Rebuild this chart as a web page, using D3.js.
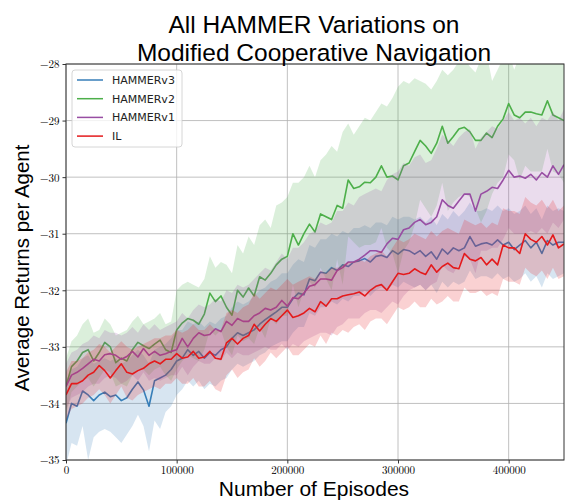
<!DOCTYPE html>
<html>
<head>
<meta charset="utf-8">
<script src="https://cdn.jsdelivr.net/npm/d3@7"></script>
<style>
  body { margin: 0; background: #fff; }
  svg { display: block; }
</style>
</head>
<body>
<svg width="568" height="502"></svg>
<script>
// episodes sampled every 5000
var episodes = d3.range(0, 450001, 5000)

var xTicks = [0, 100000, 200000, 300000, 400000]
var yTicks = [-35, -34, -33, -32, -31, -30, -29, -28]

var seriesNames = ['HAMMERv3', 'HAMMERv2', 'HAMMERv1', 'IL']
var seriesColors = ['#377eb8', '#4daf4a', '#984ea3', '#e41a1c']

/* HAMMERv3 */
var v3Mean = [-34.35,-34.0,-34.05,-33.78,-33.85,-33.95,-33.85,-33.8,-33.88,-33.85,-33.95,-33.9,-33.75,-33.62,-33.76,-34.05,-33.6,-33.55,-33.5,-33.4,
  -33.25,-33.2,-33.05,-33.15,-33.08,-33.2,-33.1,-33.15,-33.05,-33.0,-32.85,-32.75,-32.8,-32.75,-32.7,-32.6,-32.52,-32.45,-32.38,-32.3,
  -32.3,-32.15,-32.05,-32.08,-31.8,-31.83,-31.68,-31.7,-31.6,-31.65,-31.55,-31.58,-31.5,-31.48,-31.44,-31.5,-31.4,-31.38,-31.42,-31.3,
  -31.36,-31.28,-31.3,-31.36,-31.3,-31.4,-31.32,-31.45,-31.27,-31.36,-31.25,-31.3,-31.25,-31.05,-31.22,-31.18,-31.16,-31.2,-31.11,-31.2,
  -31.15,-31.28,-31.2,-31.12,-31.25,-31.15,-31.35,-31.12,-31.2,-31.15,-31.15]
var v3Hi = [-33.6,-33.4,-33.35,-33.2,-33.15,-33.3,-33.25,-33.2,-33.25,-33.2,-33.3,-33.25,-33.15,-33.05,-33.15,-33.3,-33.05,-33.0,-32.95,-32.85,
  -32.7,-32.7,-32.55,-32.6,-32.55,-32.65,-32.55,-32.6,-32.5,-32.45,-32.3,-32.2,-32.25,-32.2,-32.1,-32.0,-31.95,-31.85,-31.8,-31.7,
  -31.7,-31.55,-31.45,-31.5,-31.2,-31.25,-31.1,-31.1,-31.0,-31.05,-30.95,-31.0,-30.9,-30.9,-30.85,-30.9,-30.8,-30.8,-30.85,-30.7,
  -30.75,-30.7,-30.7,-30.75,-30.7,-30.8,-30.7,-30.85,-30.65,-30.75,-30.6,-30.7,-30.6,-30.45,-30.6,-30.6,-30.55,-30.6,-30.5,-30.6,
  -30.55,-30.65,-30.6,-30.5,-30.65,-30.55,-30.75,-30.5,-30.6,-30.55,-30.6]
var v3Lo = [-35.1,-34.7,-34.75,-34.4,-35.0,-34.6,-34.5,-34.45,-34.5,-34.6,-34.7,-34.55,-34.4,-34.2,-34.4,-34.85,-34.3,-34.45,-34.15,-34.05,
  -33.85,-33.75,-33.6,-33.7,-33.6,-33.75,-33.65,-33.7,-33.6,-33.55,-33.4,-33.3,-33.35,-33.3,-33.25,-33.15,-33.1,-33.0,-32.95,-32.9,
  -32.9,-32.75,-32.65,-32.65,-32.4,-32.45,-32.3,-32.3,-32.2,-32.25,-32.15,-32.2,-32.1,-32.1,-32.0,-32.1,-32.0,-31.95,-32.0,-31.9,
  -31.95,-31.85,-31.9,-31.95,-31.9,-32.0,-31.9,-32.05,-31.85,-31.95,-31.85,-31.9,-31.85,-31.65,-31.8,-31.75,-31.75,-31.8,-31.7,-31.8,
  -31.75,-31.85,-31.8,-31.7,-31.85,-31.75,-31.95,-31.7,-31.8,-31.75,-31.7]

/* HAMMERv2 */
var v2Mean = [-33.7,-33.35,-33.25,-33.1,-33.05,-33.25,-33.1,-32.92,-33.0,-33.28,-33.2,-33.25,-33.05,-32.92,-32.98,-33.03,-32.95,-32.88,-33.05,-33.1,
  -32.7,-32.58,-32.5,-32.53,-32.6,-32.42,-32.05,-32.2,-32.1,-32.3,-32.44,-32.0,-32.12,-31.96,-32.1,-31.76,-31.82,-31.7,-31.55,-31.45,
  -31.4,-31.0,-31.2,-31.0,-30.83,-30.97,-30.65,-30.7,-30.75,-30.5,-30.55,-30.05,-30.2,-30.17,-30.09,-30.1,-30.0,-29.8,-30.0,-29.98,
  -30.05,-29.8,-29.75,-29.55,-29.35,-29.45,-29.58,-29.4,-29.1,-29.4,-29.28,-29.15,-29.12,-29.2,-29.35,-29.35,-29.22,-29.3,-29.1,-28.97,
  -28.7,-28.9,-28.95,-28.85,-28.85,-28.88,-28.9,-28.65,-28.9,-28.95,-29.0]
var v2Hi = [-33.2,-32.9,-32.8,-32.6,-32.5,-32.75,-32.7,-32.5,-32.6,-32.8,-32.75,-32.7,-32.55,-32.45,-32.6,-32.55,-32.5,-32.4,-32.6,-32.55,
  -32.0,-31.9,-31.85,-31.9,-31.95,-31.8,-31.4,-31.6,-31.5,-31.55,-31.7,-31.2,-31.35,-31.05,-31.2,-30.85,-30.75,-30.9,-30.5,-30.45,
  -30.35,-30.1,-30.1,-30.0,-29.8,-30.0,-29.7,-29.6,-29.45,-29.55,-29.2,-29.05,-29.25,-29.1,-28.95,-29.0,-28.85,-28.7,-28.75,-28.6,
  -28.4,-28.3,-28.35,-28.25,-28.3,-28.35,-28.45,-28.3,-28.1,-28.2,-28.1,-27.95,-27.9,-28.05,-28.15,-27.9,-27.8,-28.3,-28.1,-27.9,
  -27.8,-28.1,-27.85,-27.9,-27.8,-27.85,-27.9,-27.8,-27.9,-27.95,-27.9]
var v2Lo = [-34.2,-33.8,-33.7,-33.6,-33.55,-33.7,-33.55,-33.4,-33.45,-33.7,-33.65,-33.7,-33.5,-33.4,-33.4,-33.5,-33.4,-33.35,-33.5,-33.6,
  -33.4,-33.25,-33.15,-33.2,-33.25,-33.05,-32.7,-32.8,-32.7,-33.0,-33.15,-32.8,-32.9,-32.85,-32.95,-32.65,-32.85,-32.5,-32.6,-32.45,
  -32.45,-31.9,-32.3,-32.0,-31.85,-31.95,-31.6,-31.8,-32.0,-31.45,-31.9,-31.05,-31.15,-31.25,-31.2,-31.2,-31.15,-30.9,-31.25,-31.35,
  -31.7,-31.3,-31.15,-30.85,-30.4,-30.55,-30.7,-30.5,-30.1,-30.6,-30.45,-30.35,-30.3,-30.35,-30.55,-30.8,-30.6,-30.3,-30.1,-30.0,
  -29.6,-29.7,-30.05,-29.8,-29.9,-29.9,-29.9,-29.5,-29.9,-29.95,-30.1]

/* HAMMERv1 */
var v1Mean = [-33.7,-33.5,-33.45,-33.38,-33.3,-33.22,-33.25,-33.14,-33.12,-33.15,-33.22,-33.17,-33.08,-33.18,-33.03,-33.15,-33.08,-33.15,-33.12,-33.08,
  -33.05,-32.85,-33.0,-32.85,-32.75,-32.8,-32.78,-32.68,-32.73,-32.55,-32.62,-32.5,-32.55,-32.55,-32.45,-32.4,-32.32,-32.35,-32.3,-32.18,
  -32.28,-32.13,-32.15,-32.05,-31.93,-31.9,-31.8,-31.8,-31.82,-31.65,-31.6,-31.5,-31.5,-31.45,-31.38,-31.3,-31.3,-31.33,-31.18,-31.08,
  -31.1,-30.93,-30.9,-30.8,-30.75,-30.84,-30.8,-30.7,-30.4,-30.5,-30.55,-30.42,-30.3,-30.3,-30.6,-30.3,-30.25,-30.18,-30.2,-30.05,
  -29.88,-30.0,-29.98,-30.02,-29.95,-30.05,-29.92,-30.0,-29.8,-29.95,-29.78]
var v1Hi = [-33.3,-33.1,-33.05,-32.95,-32.9,-32.8,-32.85,-32.7,-32.75,-32.75,-32.8,-32.75,-32.65,-32.75,-32.6,-32.7,-32.6,-32.7,-32.65,-32.6,
  -32.55,-32.4,-32.5,-32.35,-32.25,-32.3,-32.25,-32.15,-32.2,-32.0,-32.05,-31.9,-31.95,-31.9,-31.8,-31.7,-31.6,-31.65,-31.5,-31.35,
  -31.45,-31.25,-31.25,-31.15,-31.0,-30.95,-30.8,-30.85,-30.8,-30.6,-30.6,-30.45,-30.5,-30.35,-30.3,-30.25,-30.2,-30.25,-30.05,-29.95,
  -29.9,-29.75,-29.8,-29.65,-29.6,-29.75,-29.7,-29.5,-29.25,-29.35,-29.45,-29.3,-29.2,-29.15,-29.5,-29.3,-29.2,-29.1,-29.15,-29.0,
  -28.85,-29.0,-28.95,-29.05,-28.95,-29.1,-28.95,-29.0,-28.85,-29.0,-28.8]
var v1Lo = [-34.1,-33.9,-33.85,-33.8,-33.7,-33.65,-33.65,-33.55,-33.5,-33.55,-33.65,-33.6,-33.5,-33.6,-33.45,-33.6,-33.55,-33.6,-33.55,-33.5,
  -33.5,-33.35,-33.5,-33.35,-33.25,-33.3,-33.3,-33.2,-33.25,-33.1,-33.2,-33.1,-33.15,-33.15,-33.1,-33.05,-33.0,-33.05,-33.05,-32.95,
  -33.05,-32.95,-33.0,-32.9,-32.85,-32.8,-32.75,-32.75,-32.8,-32.65,-32.6,-32.5,-32.5,-32.5,-32.4,-32.35,-32.35,-32.4,-32.3,-32.2,
  -32.25,-32.1,-32.0,-31.95,-31.9,-32.0,-31.9,-31.85,-31.55,-31.65,-31.7,-31.55,-31.4,-31.45,-31.7,-31.3,-31.3,-31.25,-31.25,-31.1,
  -30.9,-31.0,-31.0,-31.0,-30.95,-31.0,-30.9,-31.0,-30.8,-30.9,-30.75]

/* IL */
var ilMean = [-33.85,-33.65,-33.65,-33.6,-33.5,-33.45,-33.33,-33.42,-33.55,-33.42,-33.3,-33.45,-33.48,-33.42,-33.38,-33.3,-33.25,-33.3,-33.22,-33.22,
  -33.12,-33.2,-33.18,-33.08,-33.2,-33.18,-33.08,-33.2,-33.22,-32.93,-32.85,-32.95,-32.85,-32.8,-32.6,-32.72,-32.6,-32.5,-32.55,-32.45,
  -32.35,-32.48,-32.45,-32.4,-32.32,-32.38,-32.2,-32.28,-32.15,-32.15,-32.1,-32.08,-32.06,-32.03,-32.1,-32.0,-31.93,-31.9,-32.0,-31.85,
  -31.7,-31.72,-31.7,-31.62,-31.68,-31.72,-31.55,-31.68,-31.58,-31.52,-31.6,-31.62,-31.35,-31.45,-31.48,-31.42,-31.55,-31.45,-31.55,-31.2,
  -31.25,-31.25,-31.35,-31.0,-31.1,-31.15,-31.05,-31.2,-31.02,-31.25,-31.18]
var ilHi = [-33.45,-33.25,-33.25,-33.2,-33.1,-33.05,-32.95,-33.0,-33.1,-33.0,-32.9,-33.0,-33.05,-33.0,-32.95,-32.9,-32.85,-32.85,-32.8,-32.8,
  -32.7,-32.75,-32.7,-32.6,-32.7,-32.7,-32.6,-32.7,-32.7,-32.4,-32.35,-32.4,-32.3,-32.25,-32.05,-32.15,-32.05,-31.95,-32.0,-31.9,
  -31.8,-31.9,-31.85,-31.8,-31.75,-31.8,-31.65,-31.7,-31.6,-31.6,-31.55,-31.5,-31.5,-31.45,-31.5,-31.4,-31.35,-31.3,-31.4,-31.25,
  -31.1,-31.15,-31.1,-31.0,-31.05,-31.1,-30.95,-31.05,-30.95,-30.9,-30.95,-31.0,-30.75,-30.8,-30.85,-30.8,-30.9,-30.8,-30.85,-30.55,
  -30.6,-30.6,-30.65,-30.35,-30.45,-30.5,-30.4,-30.55,-30.4,-30.6,-30.5]
var ilLo = [-34.3,-34.1,-34.05,-34.0,-33.9,-33.85,-33.75,-33.85,-34.0,-33.85,-33.7,-33.9,-33.95,-33.85,-33.8,-33.75,-33.7,-33.75,-33.65,-33.65,
  -33.55,-33.65,-33.65,-33.55,-33.7,-33.7,-33.6,-33.75,-33.8,-33.5,-33.4,-33.55,-33.45,-33.4,-33.2,-33.35,-33.25,-33.1,-33.2,-33.1,
  -33.0,-33.15,-33.15,-33.05,-32.95,-33.0,-32.8,-32.95,-32.75,-32.8,-32.7,-32.75,-32.65,-32.6,-32.7,-32.55,-32.5,-32.5,-32.6,-32.45,
  -32.3,-32.35,-32.3,-32.2,-32.3,-32.3,-32.15,-32.25,-32.2,-32.1,-32.2,-32.2,-31.95,-32.05,-32.05,-32.0,-32.1,-32.05,-32.1,-31.8,
  -31.85,-31.85,-31.9,-31.6,-31.7,-31.75,-31.65,-31.8,-31.6,-31.8,-31.75]

var series = [
  {name: seriesNames[0], color: seriesColors[0], mean: v3Mean, lo: v3Lo, hi: v3Hi},
  {name: seriesNames[1], color: seriesColors[1], mean: v2Mean, lo: v2Lo, hi: v2Hi},
  {name: seriesNames[2], color: seriesColors[2], mean: v1Mean, lo: v1Lo, hi: v1Hi},
  {name: seriesNames[3], color: seriesColors[3], mean: ilMean, lo: ilLo, hi: ilHi},
]

var margin = {left: 66, right: 4, top: 64, bottom: 42}
var W = 568, H = 502

var svg = d3.select('svg')

var x = d3.scaleLinear().domain([0, 450000]).range([margin.left, W - margin.right])
var y = d3.scaleLinear().domain([-35, -28]).range([H - margin.bottom, margin.top])

svg.append('clipPath').attr('id', 'plotclip')
  .append('rect')
  .attr('x', x.range()[0]).attr('y', y.range()[1])
  .attr('width', x.range()[1] - x.range()[0])
  .attr('height', y.range()[0] - y.range()[1])

// grid
var grid = svg.append('g').attr('class', 'grid')
grid.selectAll('line.gx').data(xTicks).enter().append('line')
  .attr('x1', d => x(d)).attr('x2', d => x(d))
  .attr('y1', y.range()[0]).attr('y2', y.range()[1])
  .attr('stroke', '#b0b0b0').attr('stroke-width', 0.8)
grid.selectAll('line.gy').data(yTicks).enter().append('line')
  .attr('y1', d => y(d)).attr('y2', d => y(d))
  .attr('x1', x.range()[0]).attr('x2', x.range()[1])
  .attr('stroke', '#b0b0b0').attr('stroke-width', 0.8)

var plot = svg.append('g').attr('clip-path', 'url(#plotclip)')

var area = d3.area()
  .x((d, i) => x(episodes[i]))
  .y0(d => y(d[0]))
  .y1(d => y(d[1]))

var line = d3.line()
  .x((d, i) => x(episodes[i]))
  .y(d => y(d))

series.forEach(function (s) {
  var band = s.lo.map((v, i) => [v, s.hi[i]])
  plot.append('path')
    .datum(band)
    .attr('d', area)
    .attr('fill', s.color)
    .attr('fill-opacity', 0.2)
  plot.append('path')
    .datum(s.mean)
    .attr('d', line)
    .attr('fill', 'none')
    .attr('stroke', s.color)
    .attr('stroke-width', 1.6)
    .attr('stroke-linejoin', 'round')
})

// axes
var xAxis = d3.axisBottom(x).tickValues(xTicks).tickSize(3.5).tickPadding(3)
  .tickFormat(d3.format('d'))
var yAxis = d3.axisLeft(y).tickValues(yTicks).tickSize(3.5).tickPadding(3)
  .tickFormat(d => '\u2212' + Math.abs(d))

var gx = svg.append('g').attr('transform', `translate(0,${y.range()[0]})`).call(xAxis)
var gy = svg.append('g').attr('transform', `translate(${x.range()[0]},0)`).call(yAxis)
gx.select('.domain').remove()
gy.select('.domain').remove()
;[gx, gy].forEach(function (g) {
  g.selectAll('text')
    .attr('font-family', '"Latin Modern Roman", "DejaVu Serif", "Liberation Serif", serif')
    .attr('font-size', 11)
    .attr('fill', '#000')
  g.selectAll('line').attr('stroke', '#000').attr('stroke-width', 0.8)
})
gy.selectAll('text').attr('dy', '0.35em')

// frame
svg.append('rect')
  .attr('x', x.range()[0]).attr('y', y.range()[1])
  .attr('width', x.range()[1] - x.range()[0])
  .attr('height', y.range()[0] - y.range()[1])
  .attr('fill', 'none')
  .attr('stroke', '#333')
  .attr('stroke-width', 1)

// title
var sansFont = '"Liberation Sans", Arial, sans-serif'
var title = svg.append('text')
  .attr('x', 314).attr('text-anchor', 'middle')
  .attr('font-family', sansFont).attr('font-size', 24.5).attr('fill', '#000')
title.append('tspan').attr('x', 314).attr('y', 33).text('All HAMMER Variations on')
title.append('tspan').attr('x', 314).attr('y', 61).text('Modified Cooperative Navigation')

svg.append('text')
  .attr('x', 314).attr('y', 496)
  .attr('text-anchor', 'middle')
  .attr('font-family', sansFont).attr('font-size', 21)
  .text('Number of Episodes')

svg.append('text')
  .attr('transform', 'translate(29,268) rotate(-90)')
  .attr('text-anchor', 'middle')
  .attr('font-family', sansFont).attr('font-size', 20.5)
  .text('Average Returns per Agent')

// legend
var legend = svg.append('g').attr('transform', 'translate(72,70)')
legend.append('rect')
  .attr('width', 110).attr('height', 77)
  .attr('rx', 3)
  .attr('fill', '#fff').attr('fill-opacity', 0.8)
  .attr('stroke', '#cccccc').attr('stroke-width', 0.8)
var item = legend.selectAll('g.item').data(series).enter().append('g')
  .attr('transform', (d, i) => `translate(0,${10 + i * 18.7})`)
item.append('line')
  .attr('x1', 5).attr('x2', 31)
  .attr('stroke', d => d.color).attr('stroke-width', 1.5)
item.append('text')
  .attr('x', 40).attr('dy', '0.36em')
  .attr('font-family', '"DejaVu Sans", sans-serif').attr('font-size', 11)
  .attr('fill', '#222')
  .text(d => d.name)
</script>
</body>
</html>
